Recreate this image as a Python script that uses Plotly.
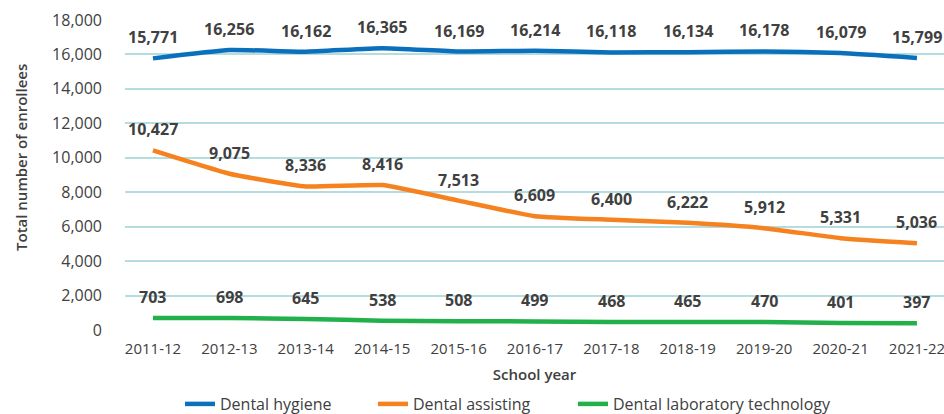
import plotly.graph_objects as go

years = ["2011-12", "2012-13", "2013-14", "2014-15", "2015-16", "2016-17",
         "2017-18", "2018-19", "2019-20", "2020-21", "2021-22"]
hygiene = [15771, 16256, 16162, 16365, 16169, 16214, 16118, 16134, 16178, 16079, 15799]
assisting = [10427, 9075, 8336, 8416, 7513, 6609, 6400, 6222, 5912, 5331, 5036]
labtech = [703, 698, 645, 538, 508, 499, 468, 465, 470, 401, 397]

series = [
    ("Dental hygiene", hygiene, "#0A70BC", "legend", 180),
    ("Dental assisting", assisting, "#F5821F", "legend2", 373),
    ("Dental laboratory technology", labtech, "#22B04B", "legend3", 573),
]

FONT = "Open Sans"
TXT = "#404040"
W, H = 944, 414
L, R, T, B = 125, 0, 20, 84

fig = go.Figure()
annotations = []
legends = {}
for name, vals, col, lg, lx in series:
    fig.add_trace(go.Scatter(
        x=years, y=vals, name=name, mode="lines", legend=lg,
        line=dict(color=col, width=4.5, shape="spline", smoothing=0.4),
    ))
    for xv, yv in zip(years, vals):
        annotations.append(dict(
            x=xv, y=yv, text=f"{yv:,}", showarrow=False, yshift=21,
            font=dict(family=FONT, size=16, color=TXT, weight="bold"),
        ))
    legends[lg] = dict(orientation="h", xref="container", yref="container",
                       x=lx / W, xanchor="left", y=(H - 404) / H, yanchor="middle",
                       font=dict(family=FONT, size=16, color=TXT), itemwidth=30,
                       bgcolor="rgba(0,0,0,0)", borderwidth=0)

pw, ph = W - L - R, H - T - B
annotations.append(dict(
    text="Total number of enrollees", textangle=-90, showarrow=False,
    xref="paper", yref="paper", x=(21 - L) / pw, y=(H - B - 158) / ph,
    xanchor="center", yanchor="middle",
    font=dict(family=FONT, size=15, color=TXT, weight=600),
))

fig.update_layout(
    width=W, height=H,
    margin=dict(l=L, r=R, t=T, b=B, autoexpand=False),
    paper_bgcolor="white", plot_bgcolor="white",
    font=dict(family=FONT, size=14, color=TXT),
    annotations=annotations,
    showlegend=True,
    **legends,
    xaxis=dict(
        type="category", range=[-0.366, 10.354], showgrid=False, zeroline=False,
        showline=False, tickfont=dict(size=15, color=TXT), automargin=False,
        ticklabelstandoff=8,
        title=dict(text="School year", font=dict(size=15, color=TXT, weight=600), standoff=12),
    ),
    yaxis=dict(
        range=[0, 18000], dtick=2000, tickformat=",d", automargin=False,
        gridcolor="#B5DDE0", gridwidth=2, zeroline=False, showline=False,
        tickfont=dict(size=16, color=TXT), ticklabelstandoff=22,
    ),
)
fig.write_html("out.html", config={"displayModeBar": False},
               post_script="document.body.style.margin='0';document.body.style.overflow='hidden';")
